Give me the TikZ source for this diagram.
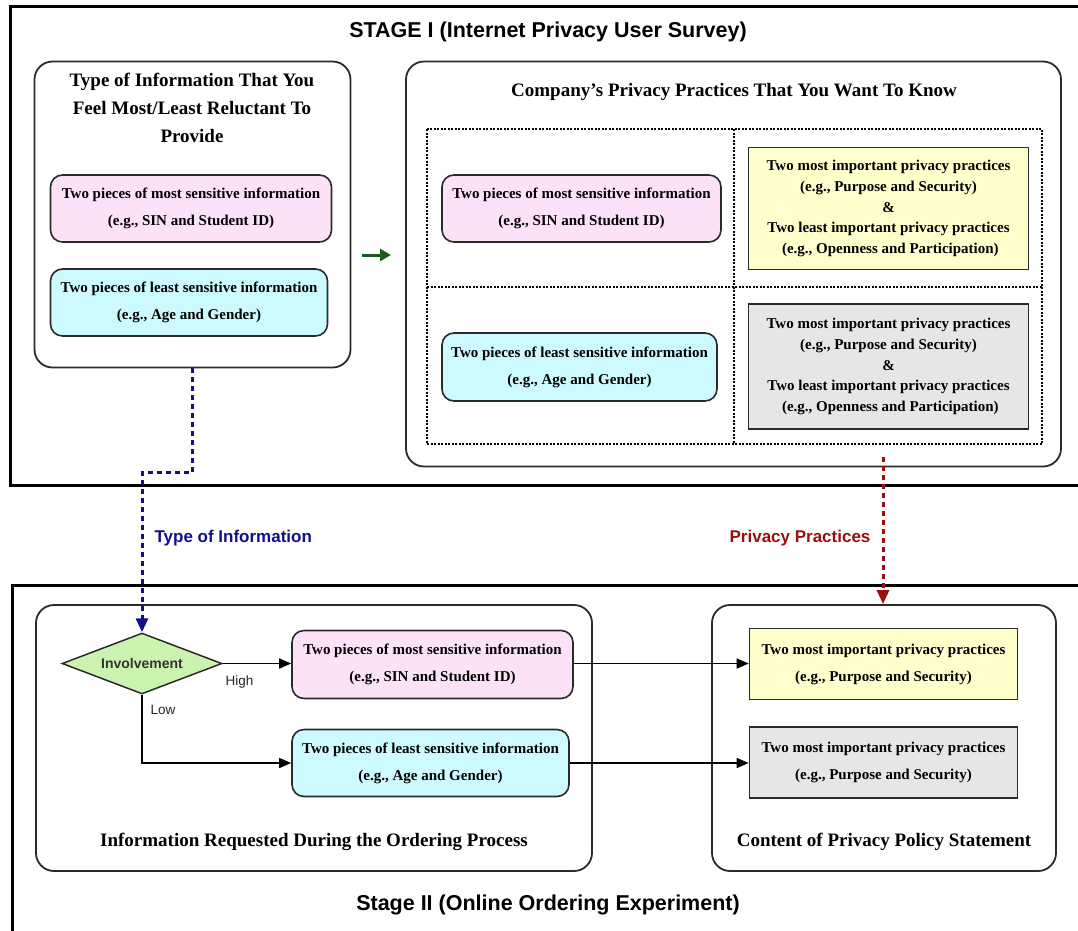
\documentclass[tikz,border=0pt]{standalone}
\usepackage{fontspec}
\setmainfont{Liberation Serif}
\setsansfont{Liberation Sans}
\usetikzlibrary{arrows.meta,shapes.geometric}

\definecolor{pinkf}{HTML}{FCE2F8}
\definecolor{cyanf}{HTML}{CCFAFE}
\definecolor{yelf}{HTML}{FFFFCC}
\definecolor{grayf}{HTML}{E6E6E6}
\definecolor{greenf}{HTML}{CCF2B0}
\definecolor{navyc}{HTML}{10108C}
\definecolor{dredc}{HTML}{990F0F}
\definecolor{dgreenc}{HTML}{1B5A1B}
\definecolor{edgec}{HTML}{2A2A2A}

\tikzset{
  stagebox/.style={draw=black, line width=3pt},
  panel/.style={draw=edgec, line width=1.8pt, rounded corners=18pt},
  infobox/.style={draw=edgec, line width=1.6pt, rounded corners=12pt, align=center,
     font=\fontsize{15}{27}\selectfont\bfseries, inner sep=0pt},
  practice/.style={draw=edgec, line width=1.6pt, align=center, inner sep=0pt},
  paneltitle/.style={align=center, font=\fontsize{19}{28}\selectfont\bfseries},
  stagetitle/.style={font=\fontsize{21.5}{26}\selectfont\sffamily\bfseries},
  flow/.style={line width=1.5pt, draw=black, -{Triangle[length=12pt,width=10pt]}},
  smalllabel/.style={font=\fontsize{13.5}{16}\selectfont\sffamily, text=black!85},
  gridline/.style={line width=1.4pt, dash pattern=on 2pt off 1.5pt}
}

\begin{document}
\begin{tikzpicture}[x=1pt,y=-1pt]
\useasboundingbox (0,0) rectangle (1078,930);

% ---------- Stage I ----------
\draw[stagebox] (10,6) rectangle (1100,485);
\node[stagetitle] (t1) at (548,32) {STAGE I (Internet Privacy User Survey)};

% left panel
\node[panel, minimum width=316pt, minimum height=306pt] (lt) at (192.5,214.5) {};
\node[paneltitle] (ltt) at (192,108) {Type of Information That You\\Feel Most/Least Reluctant To\\Provide};
\node[infobox, fill=pinkf, minimum width=281pt, minimum height=67pt] (pk1) at (191,208.5)
  {Two pieces of most sensitive information\\(e.g., SIN and Student ID)};
\node[infobox, fill=cyanf, minimum width=277pt, minimum height=67pt] (cy1) at (189,302.5)
  {Two pieces of least sensitive information\\(e.g., Age and Gender)};

% green arrow
\coordinate (ga1) at (362,255);
\coordinate (ga2) at (391,255);
\draw[dgreenc, line width=3pt, -{Triangle[length=11pt,width=12pt]}] (ga1) -- (ga2);

% right panel
\node[panel, minimum width=655pt, minimum height=405pt] (rt) at (733.5,264) {};
\node[paneltitle] (rtt) at (734,92) {Company's Privacy Practices That You Want To Know};
\draw[gridline] (427,129) rectangle (1042,444);
\draw[gridline] (734,129) -- (734,444);
\draw[gridline] (427,287) -- (1042,287);

\node[infobox, fill=pinkf, minimum width=279pt, minimum height=67pt] (pk2) at (581.5,208.5)
  {Two pieces of most sensitive information\\(e.g., SIN and Student ID)};
\node[infobox, fill=cyanf, minimum width=275pt, minimum height=68pt] (cy2) at (579.5,367)
  {Two pieces of least sensitive information\\(e.g., Age and Gender)};
\node[practice, fill=yelf, minimum width=280pt, minimum height=122pt,
      font=\fontsize{15}{20.7}\selectfont\bfseries] (ye1) at (888.5,208.5)
  {Two most important privacy practices\\(e.g., Purpose and Security)\\\&\\Two least important privacy practices\\\ (e.g., Openness and Participation)};
\node[practice, fill=grayf, minimum width=280pt, minimum height=125pt,
      font=\fontsize{15}{20.7}\selectfont\bfseries] (gr1) at (888.5,366.5)
  {Two most important privacy practices\\(e.g., Purpose and Security)\\\&\\Two least important privacy practices\\\ (e.g., Openness and Participation)};

% ---------- Stage II ----------
\draw[stagebox] (12,585) rectangle (1100,960);
\node[stagetitle] (t2) at (548,905) {Stage II (Online Ordering Experiment)};

\node[panel, minimum width=556pt, minimum height=266pt] (lb) at (314,738) {};
\node[paneltitle] (lbt) at (314,842) {Information Requested During the Ordering Process};

\node[panel, minimum width=344pt, minimum height=266pt] (rb) at (884,738) {};
\node[paneltitle] (rbt) at (884,842) {Content of Privacy Policy Statement};

\node[diamond, shape aspect=2.6, draw=edgec, fill=greenf, line width=1.5pt, minimum width=160pt,
      minimum height=61pt, inner sep=0pt,
      font=\fontsize{14}{16}\selectfont\sffamily\bfseries, text=black!80] (dia) at (142,663.5) {Involvement};

\node[infobox, fill=pinkf, minimum width=281pt, minimum height=68pt] (pk3) at (432.5,664.5)
  {Two pieces of most sensitive information\\(e.g., SIN and Student ID)};
\node[infobox, fill=cyanf, minimum width=277pt, minimum height=67pt] (cy3) at (430.5,763)
  {Two pieces of least sensitive information\\(e.g., Age and Gender)};

\node[practice, fill=yelf, minimum width=268pt, minimum height=71pt,
      font=\fontsize{15}{27}\selectfont\bfseries] (ye2) at (883.5,664)
  {Two most important privacy practices\\(e.g., Purpose and Security)};
\node[practice, fill=grayf, minimum width=268pt, minimum height=71pt,
      font=\fontsize{15}{27}\selectfont\bfseries] (gr2) at (883.5,762.5)
  {Two most important privacy practices\\(e.g., Purpose and Security)};

% flow arrows
\draw[flow] (dia.east) -- (pk3.west |- dia.east);
\node[smalllabel, anchor=west] (hi) at (222,682) {High};
\draw[flow] (dia.south) |- (cy3.west);
\node[smalllabel, anchor=west] (lo) at (147,710) {Low};
\draw[flow] (pk3.east |- dia.east) -- (ye2.west |- dia.east);
\draw[flow] (cy3.east) -- (gr2.west |- cy3.east);

% dashed connectors between stages
\draw[navyc, line width=3pt, dash pattern=on 5pt off 4pt,
      -{Triangle[length=14pt,width=12pt]}] (lt.south) -- ++(0,104) -| (dia.north);
\node[font=\fontsize{17}{20}\selectfont\sffamily\bfseries, text=navyc, anchor=west] (lab1) at (151,538) {Type of Information};

\coordinate (rs) at (883,457);
\draw[dredc, line width=3pt, dash pattern=on 5pt off 4pt,
      -{Triangle[length=14pt,width=12pt]}] (rs) -- (rs |- rb.north);
\node[font=\fontsize{17}{20}\selectfont\sffamily\bfseries, text=dredc, anchor=east] (lab2) at (874,538) {Privacy Practices};

\end{tikzpicture}
\end{document}
